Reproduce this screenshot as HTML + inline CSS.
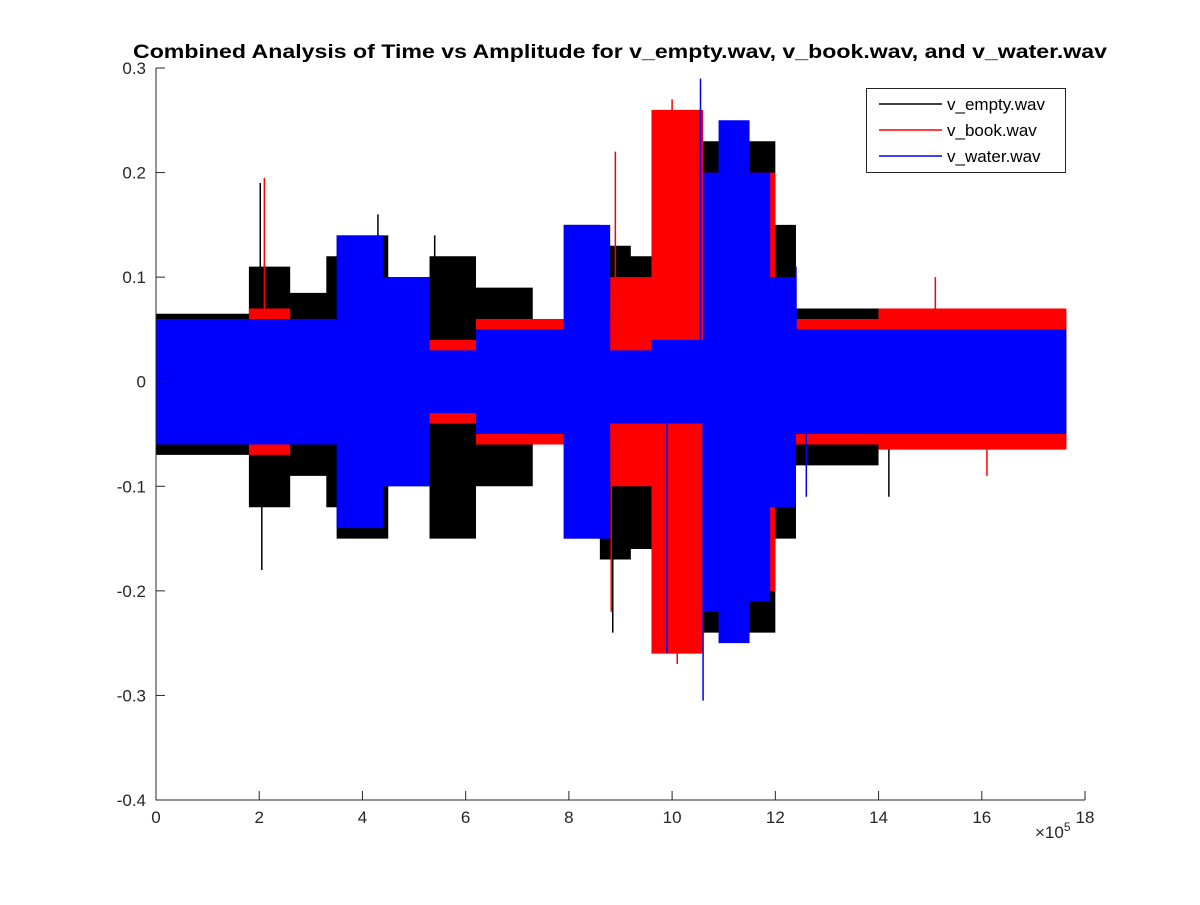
<!DOCTYPE html>
<html><head><meta charset="utf-8"><style>
body{margin:0;background:#fff;}
svg text{font-family:"Liberation Sans",Arial,sans-serif;}
</style></head><body>
<svg id="chart" width="1200" height="900" viewBox="0 0 1200 900">
<rect width="1200" height="900" fill="#fff"/>
<g id="plot"></g>
<g id="axes"></g>
<text x="133" y="58" font-size="19" font-weight="bold" textLength="974" lengthAdjust="spacingAndGlyphs">Combined Analysis of Time vs Amplitude for v_empty.wav, v_book.wav, and v_water.wav</text>
<g>
<rect x="866.5" y="88.5" width="199" height="84" fill="#fff" stroke="#262626"/>
<line x1="879" y1="104" x2="942" y2="104" stroke="#000" stroke-width="1.5"/>
<text x="947" y="110" font-size="17">v_empty.wav</text>
<line x1="879" y1="130" x2="942" y2="130" stroke="#f00" stroke-width="1.5"/>
<text x="947" y="136" font-size="17">v_book.wav</text>
<line x1="879" y1="156" x2="942" y2="156" stroke="#00f" stroke-width="1.5"/>
<text x="947" y="162" font-size="17">v_water.wav</text>
</g>
</svg>
<script>
// segment breakpoints (x in units of 1e5 samples) and envelopes
const emptyX = [0,1.8,2.6,3.3,3.5,4.5,5.3,6.2,7.3,7.9,8.6,9.2,9.7,10.6,12,12.4,14,17.64];
const emptyUp = [0.065,0.11,0.085,0.12,0.14,0.1,0.12,0.09,0.06,0.15,0.13,0.12,0.22,0.23,0.15,0.07,0.055];
const emptyLo = [-0.07,-0.12,-0.09,-0.12,-0.15,-0.1,-0.15,-0.1,-0.06,-0.15,-0.17,-0.16,-0.22,-0.24,-0.15,-0.08,-0.06];
const bookX = [0,1.8,2.6,5.3,6.2,8.8,9.6,10.6,12,14,17.64];
const bookUp = [0.06,0.07,0.06,0.04,0.06,0.1,0.26,0.2,0.06,0.07];
const bookLo = [-0.06,-0.07,-0.06,-0.04,-0.06,-0.1,-0.26,-0.2,-0.06,-0.065];
const waterX = [0,3.5,4.4,5.3,6.2,7.9,8.8,9.6,10.6,10.9,11.5,11.9,12.4,17.64];
const waterUp = [0.06,0.14,0.1,0.03,0.05,0.15,0.03,0.04,0.2,0.25,0.2,0.1,0.05];
const waterLo = [-0.06,-0.14,-0.1,-0.03,-0.05,-0.15,-0.04,-0.04,-0.22,-0.25,-0.21,-0.12,-0.05];
// spikes [x, amplitude]
const emptySpikes = [[2.02,0.19],[2.05,-0.18],[8.85,-0.24],[8.82,0.13],[10.0,-0.26],[12.3,0.15],[14.2,-0.11],[4.3,0.16],[5.4,0.14]];
const bookSpikes = [[2.1,0.195],[8.82,-0.22],[8.9,0.22],[10.1,-0.27],[10.0,0.27],[16.1,-0.09],[15.1,0.1]];
const waterSpikes = [[10.55,0.29],[10.6,-0.305],[9.9,-0.26],[12.4,0.11],[12.6,-0.11]];
const xTicks = [0,2,4,6,8,10,12,14,16,18];
const yTicks = [-0.4,-0.3,-0.2,-0.1,0,0.1,0.2,0.3];

const L=156,R=1085,T=68,B=800;
const sx=v=>L+(v/18)*(R-L);
const sy=v=>B-(v+0.4)/0.7*(B-T);
const NS="http://www.w3.org/2000/svg";
const plot=document.getElementById('plot');
const axes=document.getElementById('axes');
function mk(tag,attrs,parent){const e=document.createElementNS(NS,tag);for(const k in attrs)e.setAttribute(k,attrs[k]);parent.appendChild(e);return e;}

function drawSeries(xs,up,lo,spikes,color,name){
  let top=[],bot=[];
  for(let i=0;i<up.length;i++){
    top.push(sx(xs[i])+','+sy(up[i]));top.push(sx(xs[i+1])+','+sy(up[i]));
  }
  for(let i=lo.length-1;i>=0;i--){
    bot.push(sx(xs[i+1])+','+sy(lo[i]));bot.push(sx(xs[i])+','+sy(lo[i]));
  }
  const p=mk('polygon',{points:top.concat(bot).join(' '),fill:color},plot);
  
  
  spikes.forEach(s=>{
    const l=mk('line',{x1:sx(s[0]),x2:sx(s[0]),y1:sy(0),y2:sy(s[1]),stroke:color,'stroke-width':1.5},plot);
    
    
  });
}
drawSeries(emptyX,emptyUp,emptyLo,emptySpikes,'#000','series-empty');
drawSeries(bookX,bookUp,bookLo,bookSpikes,'#f00','series-book');
drawSeries(waterX,waterUp,waterLo,waterSpikes,'#00f','series-water');

const ax=mk('path',{d:`M${L},${T}V${B}H${R}`,fill:'none',stroke:'#262626','stroke-width':1},axes);


xTicks.forEach(t=>{
  const x=sx(t);
  const l=mk('line',{x1:x,x2:x,y1:B,y2:B-9,stroke:'#262626'},axes);
  
  
  const tx=mk('text',{x:x,y:B+23,'text-anchor':'middle','font-size':17,fill:'#262626'},axes);
  tx.textContent=t;
  
  
});
yTicks.forEach(t=>{
  const y=sy(t);
  const l=mk('line',{x1:L,x2:L+9,y1:y,y2:y,stroke:'#262626'},axes);
  
  
  const tx=mk('text',{x:L-10,y:y+6,'text-anchor':'end','font-size':17,fill:'#262626'},axes);
  tx.textContent=Math.abs(t)<1e-9?'0':t.toFixed(1);
  
  
});
const ex=mk('text',{x:1035,y:838,'font-size':17,fill:'#262626'},axes);
ex.innerHTML='×10<tspan dy="-7" font-size="12">5</tspan>';


</script>
</body></html>
